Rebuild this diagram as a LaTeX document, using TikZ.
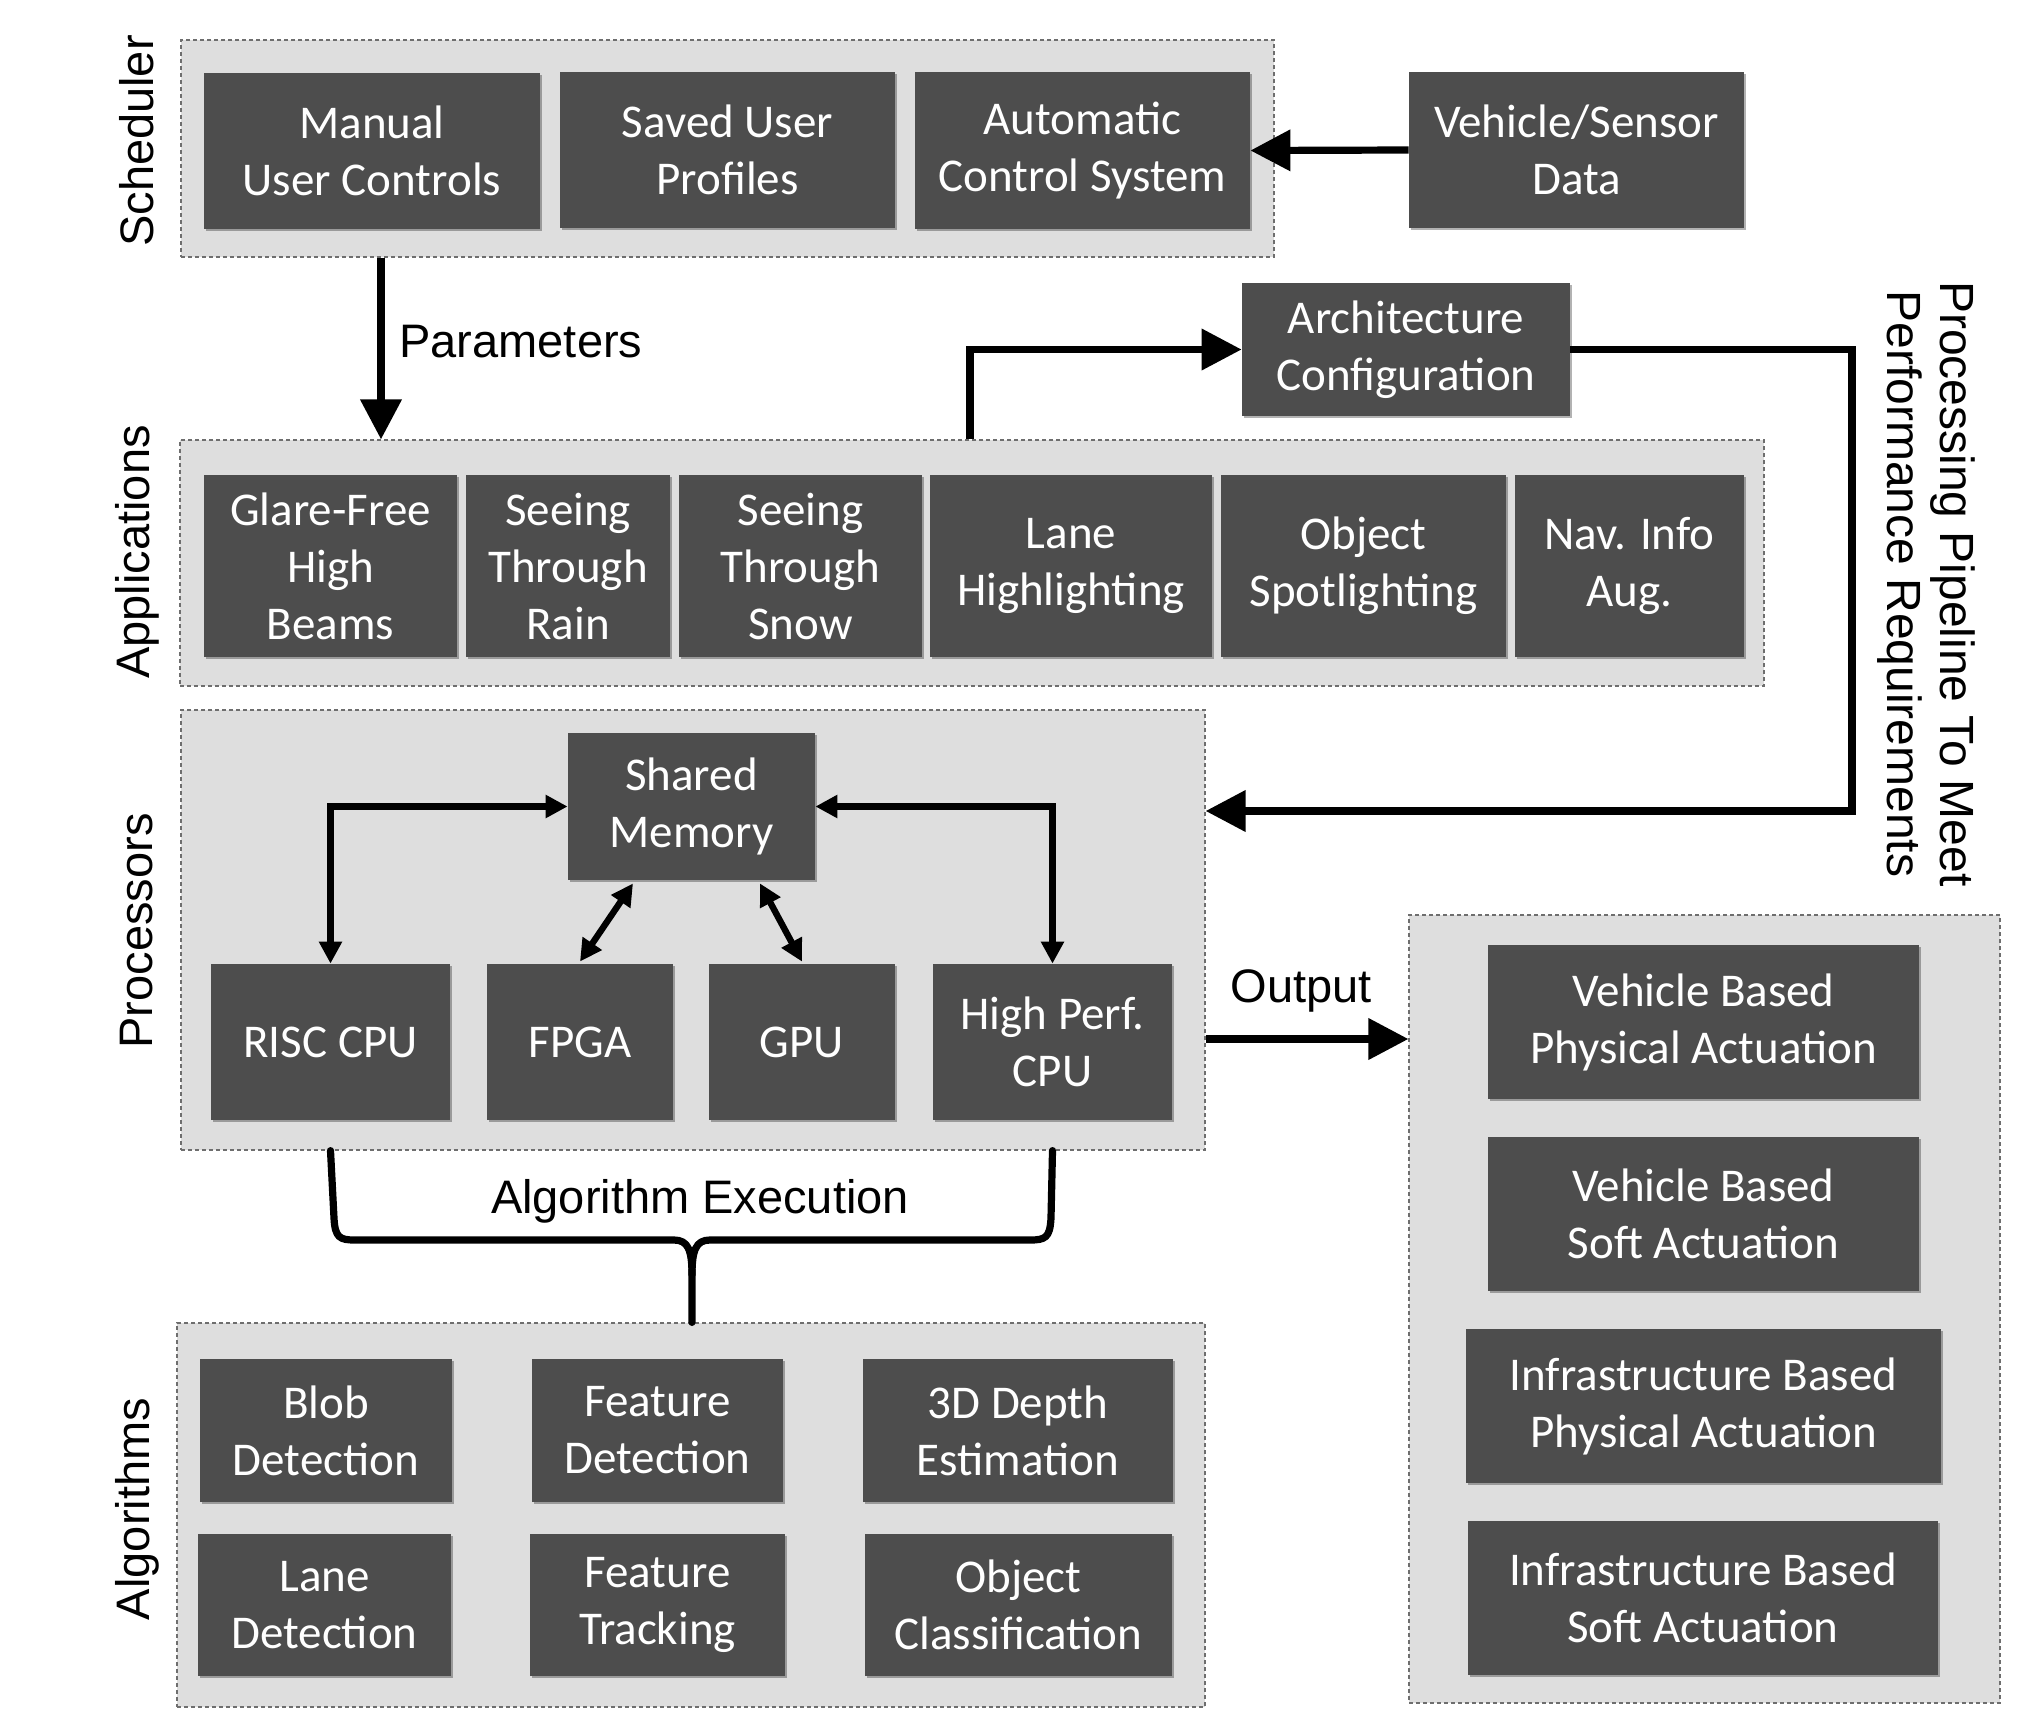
\documentclass[tikz,border=0pt]{standalone}
\usepackage{fontspec}
\setmainfont{Liberation Sans}
\newfontfamily\boxfnt{Carlito}
\usetikzlibrary{arrows.meta,shadows,calc}
\definecolor{boxgray}{RGB}{77,77,77}
\definecolor{contfill}{RGB}{222,222,222}
\definecolor{contline}{RGB}{110,110,110}
\tikzset{
  contbox/.style={draw=contline, fill=contfill, line width=0.6pt, dash pattern=on 2pt off 1.5pt, inner sep=0pt},
  dbox/.style={fill=boxgray, text=white, align=center, inner sep=0pt,
    font=\boxfnt\fontsize{23.5}{28.5}\selectfont,
    drop shadow={shadow xshift=1.2pt, shadow yshift=-1.2pt, opacity=0.3, fill=black}},
  lbl/.style={font=\fontsize{23.5}{26.5}\selectfont, inner sep=0pt, align=center},
  bigarrow/.style={line width=3.6pt, -{Triangle[length=20pt,width=20pt]}},
  dblarrow/.style={line width=3.2pt, {Triangle[length=11pt,width=11pt]}-{Triangle[length=11pt,width=11pt]}},
  bracepath/.style={line width=3.6pt, line cap=round, line join=round},
}
\newcommand{\pbox}[7][dbox]{\node[#1, minimum width={(#5-#3)*0.5pt}, minimum height={(#6-#4)*0.5pt}] (#2) at ({(#3+#5)/2},{(#4+#6)/2}) {#7};}
\begin{document}
\begin{tikzpicture}[x=0.5pt,y=-0.5pt]
\useasboundingbox[fill=white] (0,0) rectangle (2030,1729);
% containers
\pbox[contbox]{sched}{181}{40}{1274}{257}{}
\pbox[contbox]{apps}{180}{440}{1764}{686}{}
\pbox[contbox]{proc}{181}{710}{1205}{1150}{}
\pbox[contbox]{alg}{177}{1323}{1205}{1707}{}
\pbox[contbox]{out}{1409}{915}{2000}{1703}{}
% scheduler
\pbox{manual}{204}{73}{540}{229}{Manual\\User Controls}
\pbox{saved}{560}{72}{895}{228}{Saved User\\Profiles}
\pbox{auto}{915}{72}{1250}{229}{Automatic\\Control System}
\pbox{veh}{1409}{72}{1744}{228}{Vehicle/Sensor\\Data}
% applications
\pbox{glare}{204}{475}{457}{657}{Glare-Free\\High\\Beams}
\pbox{rain}{466}{475}{670}{657}{Seeing\\Through\\Rain}
\pbox{snow}{679}{475}{922}{657}{Seeing\\Through\\Snow}
\pbox{lane}{930}{475}{1212}{657}{Lane\\Highlighting}
\pbox{obj}{1221}{475}{1506}{657}{Object\\Spotlighting}
\pbox{nav}{1515}{475}{1744}{657}{Nav. Info\\Aug.}
\pbox{arch}{1242}{283}{1570}{416}{Architecture\\Configuration}
% processors
\pbox{shared}{568}{733}{815}{880}{Shared\\Memory}
\pbox{risc}{211}{964}{450}{1120}{RISC CPU}
\pbox{fpga}{487}{964}{673}{1120}{FPGA}
\pbox{gpu}{709}{964}{895}{1120}{GPU}
\pbox{hp}{933}{964}{1172}{1120}{High Perf.\\CPU}
% algorithms
\pbox{blob}{200}{1359}{452}{1502}{Blob\\Detection}
\pbox{featdet}{532}{1359}{783}{1502}{Feature\\Detection}
\pbox{depth}{863}{1359}{1173}{1502}{3D Depth\\Estimation}
\pbox{lanedet}{198}{1534}{451}{1676}{Lane\\Detection}
\pbox{feattr}{530}{1534}{785}{1676}{Feature\\Tracking}
\pbox{objcls}{865}{1534}{1172}{1676}{Object\\Classification}
% outputs
\pbox{vbp}{1488}{945}{1919}{1099}{Vehicle Based\\Physical Actuation}
\pbox{vbs}{1488}{1137}{1919}{1291}{Vehicle Based\\Soft Actuation}
\pbox{ibp}{1466}{1329}{1941}{1483}{Infrastructure Based\\Physical Actuation}
\pbox{ibs}{1468}{1521}{1938}{1675}{Infrastructure Based\\Soft Actuation}
% side labels
\node[lbl, rotate=90] (lsched) at (137,141) {Scheduler};
\node[lbl, rotate=90] (lapps) at (137,552) {Applications};
\node[lbl, rotate=90] (lproc) at (137,931) {Processors};
\node[lbl, rotate=90] (lalg) at (137,1509) {Algorithms};
\node[lbl, rotate=-90, font=\fontsize{24}{26.5}\selectfont] (lpipe) at (1926,584) {Processing Pipeline To Meet\\Performance Requirements};
% helper coordinates
\coordinate (px) at (381,0);
\coordinate (ax) at (970,0);
\coordinate (pr) at (1852,811);
\coordinate (oy) at (0,1039);
% arrows
\draw[bigarrow] (veh.west) -- (auto.east);
\draw[bigarrow] (sched.south -| px) -- (apps.north -| px);
\node[lbl, anchor=base west] (lparam) at (399,357) {Parameters};
\draw[bigarrow] (apps.north -| ax) |- (arch.west);
\draw[bigarrow] (arch.east) -| (pr) -- (proc.east |- pr);
\draw[bigarrow] (proc.east |- oy) -- (out.west |- oy);
\node[lbl, anchor=base] (lout) at (1301,1002) {Output};
\draw[dblarrow] (shared.west) -| (risc.north);
\draw[dblarrow] (shared.east) -| (hp.north);
\draw[dblarrow] ([xshift=-29.25pt,yshift=-1.5pt]shared.south) -- ([yshift=1pt]fpga.north);
\draw[dblarrow] ([xshift=34.25pt,yshift=-1.5pt]shared.south) -- ([yshift=1pt]gpu.north);
% brace
\draw[bracepath] (proc.south -| risc.north) -- (334,1218) .. controls (335,1238) and (340,1240) .. (355,1240) -- (674,1240) .. controls (688,1240) and (692,1250) .. (692,1275) -- (alg.north -| 692,0);
\draw[bracepath] (proc.south -| hp.north) -- (1051,1218) .. controls (1050,1238) and (1045,1240) .. (1030,1240) -- (710,1240) .. controls (696,1240) and (692,1250) .. (692,1275);
\node[lbl, anchor=base] (lalgex) at (700,1213) {Algorithm Execution};
\end{tikzpicture}
\end{document}
